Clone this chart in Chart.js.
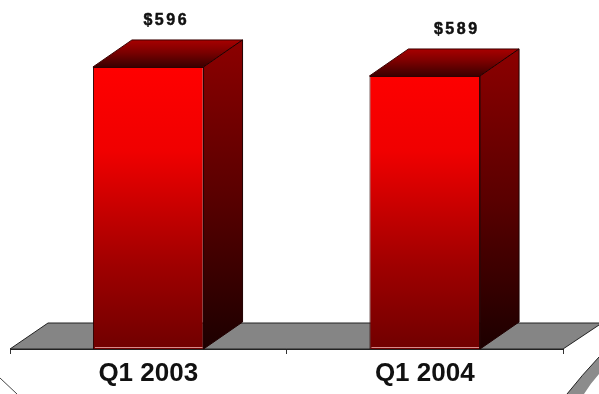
<!DOCTYPE html>
<html>
<head>
<meta charset="utf-8">
<style>
  html, body { margin: 0; padding: 0; background: #fff; overflow: hidden; }
  #box { width: 599px; height: 394px; position: relative; }
</style>
</head>
<body>
<div id="box"><canvas id="revenueChart"></canvas></div>
<script src="https://cdn.jsdelivr.net/npm/chart.js@4"></script>
<script>
const categories = ['Q1 2003', 'Q1 2004'];
const revenue = [596, 589];
const valueLabels = ['$596', '$589'];

// depth of the fake 3D boxes and floor
const depthX = 39;
const depthY = 27;
// the value captions sit over the back of each box
const captionShift = [18, 32];

function linear(ctx, x0, y0, x1, y1, stops)
{
  const g = ctx.createLinearGradient(x0, y0, x1, y1);
  stops.forEach(function (s) { g.addColorStop(s[0], s[1]); });
  return g;
}

function poly(ctx, pts, fill, stroke)
{
  ctx.beginPath();
  pts.forEach(function (p, i) { i ? ctx.lineTo(p[0], p[1]) : ctx.moveTo(p[0], p[1]); });
  ctx.closePath();
  ctx.fillStyle = fill;
  ctx.fill();
  if (stroke)
  {
    ctx.strokeStyle = stroke;
    ctx.lineWidth = 1;
    ctx.stroke();
  }
}

// Floor under the bars and the rounded frame in the lower corners
const floorPlugin = {
  id: 'floor',
  beforeDatasetsDraw(chart)
  {
    const ctx = chart.ctx;
    const a = chart.chartArea;
    ctx.save();
    poly(ctx, [[a.left, a.bottom], [a.left + depthX - 1, a.bottom - depthY + 1],
               [a.right + depthX, a.bottom - depthY + 1], [a.right, a.bottom]], '#858585', '#222');

    ctx.beginPath();
    ctx.moveTo(599, 357);
    ctx.quadraticCurveTo(582, 375, 567, 394);
    ctx.lineTo(584, 394);
    ctx.quadraticCurveTo(590, 384, 599, 374);
    ctx.closePath();
    ctx.fillStyle = '#8c8c8c';
    ctx.fill();
    ctx.beginPath();
    ctx.moveTo(599, 357);
    ctx.quadraticCurveTo(582, 375, 567, 394);
    ctx.strokeStyle = '#222';
    ctx.lineWidth = 1;
    ctx.stroke();

    ctx.beginPath();
    ctx.moveTo(0, 378);
    ctx.lineTo(17, 394);
    ctx.strokeStyle = '#444';
    ctx.stroke();
    ctx.restore();
  }
};

// Top and side faces of every bar, plus its value above the box
const boxPlugin = {
  id: 'box3d',
  afterDatasetsDraw(chart)
  {
    const ctx = chart.ctx;
    const b = chart.chartArea.bottom;
    chart.getDatasetMeta(0).data.forEach(function (bar, i) {
      const half = bar.width / 2;
      const l = bar.x - half;
      const r = bar.x + half;
      const t = bar.y;
      ctx.save();

      poly(ctx, [[l, t], [l + depthX, t - depthY], [r + depthX, t - depthY], [r, t]],
        linear(ctx, 0, t - depthY, 0, t, [[0, '#a80000'], [0.45, '#7c0000'], [1, '#3a0000']]), '#3c0000');

      poly(ctx, [[r, t], [r + depthX, t - depthY], [r + depthX, b - depthY], [r, b]],
        linear(ctx, 0, t - depthY, 0, b, [[0, '#8c0000'], [0.5, '#5a0000'], [1, '#1c0000']]), '#200000');

      // light line along the front foot
      ctx.strokeStyle = '#d88a8a';
      ctx.beginPath();
      ctx.moveTo(l + 2, b - 1.5);
      ctx.lineTo(r - 1, b - 1.5);
      ctx.stroke();

      ctx.fillStyle = '#111';
      ctx.strokeStyle = '#111';
      ctx.lineWidth = 0.5;
      ctx.font = 'bold 16px "Liberation Sans"';
      ctx.letterSpacing = '2.5px';
      ctx.textAlign = 'center';
      ctx.textBaseline = 'middle';
      ctx.fillText(valueLabels[i], bar.x + captionShift[i], t - 46);
      ctx.strokeText(valueLabels[i], bar.x + captionShift[i], t - 46);
      ctx.restore();
    });
  }
};

new Chart(document.getElementById('revenueChart'), {
  type: 'bar',
  data: {
    labels: categories,
    datasets: [{
      data: revenue,
      backgroundColor: function (c) {
        const a = c.chart.chartArea;
        if (!a) return '#c00000';
        return linear(c.chart.ctx, 0, 67, 0, a.bottom, [[0, '#ff0000'], [0.3, '#f00000'], [0.7, '#a00000'], [1, '#700000']]);
      },
      borderColor: '#2a0000',
      borderWidth: 1,
      barPercentage: 0.4,
      categoryPercentage: 1
    }]
  },
  options: {
    responsive: true,
    maintainAspectRatio: false,
    animation: false,
    layout: { padding: { left: 10, right: 36, top: 0, bottom: 0 } },
    plugins: { legend: { display: false }, tooltip: { enabled: false } },
    scales: {
      x: {
        afterFit: function (s) { s.height = 45; },
        border: { color: '#222' },
        grid: { drawOnChartArea: false, tickLength: 5, offset: true, color: '#333' },
        ticks: { color: '#111', font: { family: '"Liberation Sans"', size: 26, weight: 'bold' }, padding: 4, maxRotation: 0 }
      },
      y: { display: false, min: 377, max: 648 }
    }
  },
  plugins: [floorPlugin, boxPlugin]
});
</script>
</body>
</html>
